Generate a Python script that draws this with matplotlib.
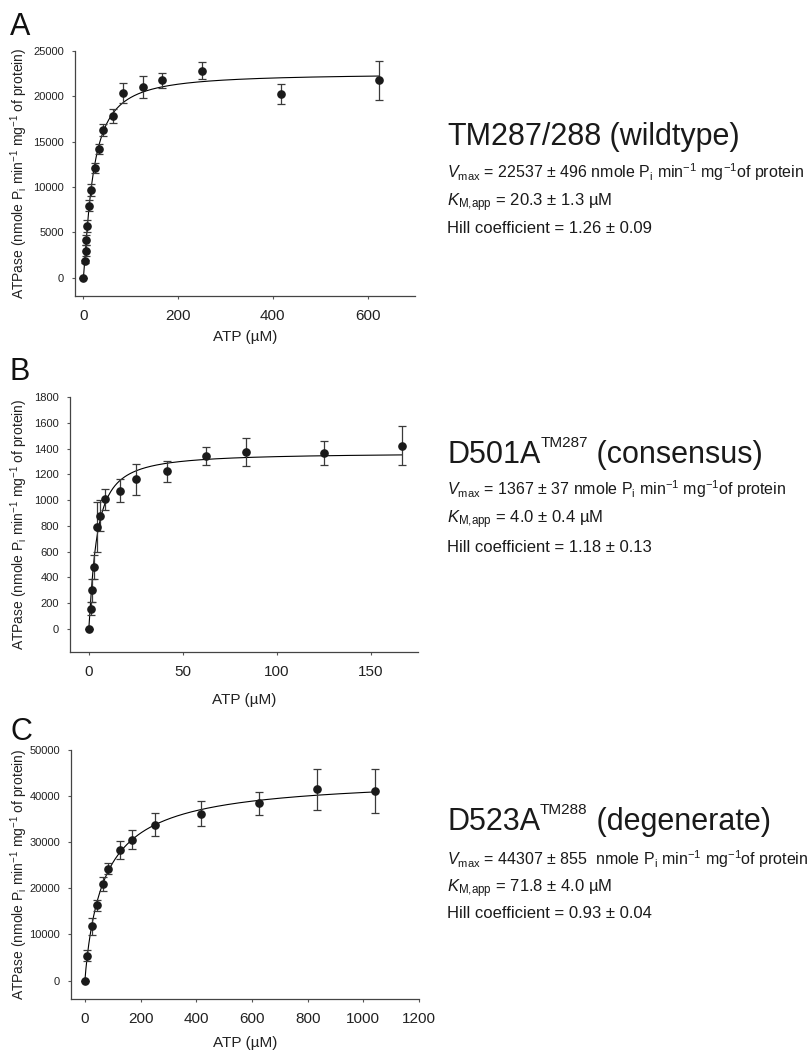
import matplotlib
matplotlib.use("Agg")
import matplotlib.pyplot as plt
import numpy as np

plt.rcParams["font.family"] = ["Liberation Sans", "DejaVu Sans"]
plt.rcParams["mathtext.fontset"] = "custom"
plt.rcParams["mathtext.rm"] = "Liberation Sans"
plt.rcParams["mathtext.it"] = "Liberation Sans:italic"

# Panel A: TM287/288 (wildtype)
atp_a = [0, 3, 5, 6.5, 8.5, 12.5, 17, 25, 33.5, 42, 62.5, 83, 125, 167, 250, 417, 625]
rate_a = [0, 1840, 2990, 4170, 5680, 7970, 9660, 12100, 14160, 16300, 17800, 20350, 21050, 21750, 22850, 20250, 21750]
err_a = [0, 150, 600, 550, 650, 600, 650, 550, 550, 700, 780, 1070, 1200, 830, 980, 1120, 2190]

# Panel B: D501A TM287 (consensus)
atp_b = [0, 0.9, 1.7, 2.5, 4.2, 6, 8.4, 16.8, 25, 41.8, 62.5, 83.3, 125, 166.5]
rate_b = [0, 157, 300, 480, 789, 879, 1005, 1072, 1162, 1224, 1345, 1371, 1366, 1423]
err_b = [0, 52, 90, 90, 195, 120, 81, 90, 120, 82, 70, 110, 95, 153]

# Panel C: D523A TM288 (degenerate)
atp_c = [0, 8.4, 26, 42, 65, 84, 126, 168, 250, 417, 625, 833, 1041]
rate_c = [0, 5410, 11760, 16300, 21000, 24240, 28350, 30590, 33840, 36220, 38460, 41490, 41200]
err_c = [0, 1120, 1900, 1150, 1550, 1150, 1950, 2050, 2500, 2700, 2450, 4470, 4760]

# Hill fit parameters printed beside each panel
vmax = [22537, 1367, 44307]
km = [20.3, 4.0, 71.8]
hill = [1.26, 1.18, 0.93]

# title pieces: name, superscript, remainder
title_main = ["TM287/288", "D501A", "D523A"]
title_sup = ["", "TM287", "TM288"]
title_rest = [" (wildtype)", " (consensus)", " (degenerate)"]
vmax_txt = [r"$V_{\mathrm{max}}$ = 22537 ± 496 nmole P$_{\mathrm{i}}$ min$^{\mathrm{-1}}$ mg$^{\mathrm{-1}}$of protein",
            r"$V_{\mathrm{max}}$ = 1367 ± 37 nmole P$_{\mathrm{i}}$ min$^{\mathrm{-1}}$ mg$^{\mathrm{-1}}$of protein",
            r"$V_{\mathrm{max}}$ = 44307 ± 855  nmole P$_{\mathrm{i}}$ min$^{\mathrm{-1}}$ mg$^{\mathrm{-1}}$of protein"]
km_txt = [r"$K_{\mathrm{M{,}app}}$ = 20.3 ± 1.3 µM",
          r"$K_{\mathrm{M{,}app}}$ = 4.0 ± 0.4 µM",
          r"$K_{\mathrm{M{,}app}}$ = 71.8 ± 4.0 µM"]
hill_txt = ["Hill coefficient = 1.26 ± 0.09",
            "Hill coefficient = 1.18 ± 0.13",
            "Hill coefficient = 0.93 ± 0.04"]

W, H = 809, 1056
fig = plt.figure(figsize=(W / 100, H / 100), dpi=100)
renderer = fig.canvas.get_renderer()

def px_axes(left, right, top, bottom):
    return fig.add_axes([left / W, 1 - bottom / H, (right - left) / W, (bottom - top) / H])

panels = [
    dict(ax=px_axes(75, 415, 51, 296), x=atp_a, y=rate_a, e=err_a,
         xlim=(-17.5, 700), ylim=(-2000, 25000), xt=[0, 200, 400, 600],
         yt=np.arange(0, 25001, 5000), ylab_x=19, xlab_y=337,
         letter="A", letter_y=35, text_y=[145, 178, 206, 233]),
    dict(ax=px_axes(70, 418, 397, 652), x=atp_b, y=rate_b, e=err_b,
         xlim=(-10, 175), ylim=(-180, 1800), xt=[0, 50, 100, 150],
         yt=np.arange(0, 1801, 200), ylab_x=19, xlab_y=700,
         letter="B", letter_y=380, text_y=[463, 495, 523, 552]),
    dict(ax=px_axes(71, 419, 750, 999), x=atp_c, y=rate_c, e=err_c,
         xlim=(-50, 1200), ylim=(-4000, 50000), xt=np.arange(0, 1201, 200),
         yt=np.arange(0, 50001, 10000), ylab_x=19, xlab_y=1043,
         letter="C", letter_y=740, text_y=[830, 865, 892, 918]),
]

for i, p in enumerate(panels):
    ax = p["ax"]
    # fitted Hill curve
    xs = np.linspace(0, max(p["x"]), 600)
    fit = vmax[i] * xs ** hill[i] / (km[i] ** hill[i] + xs ** hill[i])
    ax.plot(xs, fit, color="black", lw=0.8, zorder=2)
    ax.errorbar(p["x"], p["y"], yerr=p["e"], fmt="o", color="#1a1a1a", ms=5.2,
                ecolor="#3a3a3a", elinewidth=0.9, capsize=3, capthick=0.9, zorder=3)

    ax.set_xlim(*p["xlim"])
    ax.set_ylim(*p["ylim"])
    ax.set_xticks(p["xt"])
    ax.set_yticks(p["yt"])
    for s in ["top", "right"]:
        ax.spines[s].set_visible(False)
    for s in ["left", "bottom"]:
        ax.spines[s].set_color("#444444")
        ax.spines[s].set_linewidth(0.9)
    ax.tick_params(axis="both", direction="out", length=2.5, width=0.8, color="#555555")
    ax.tick_params(axis="x", labelsize=11, pad=7, labelcolor="#222222")
    ax.tick_params(axis="y", labelsize=8, pad=5.5, labelcolor="#222222")

    l, b, w, h = ax.get_position().bounds
    ax.set_ylabel(r"ATPase (nmole P$_{\mathrm{i}}$ min$^{\mathrm{-1}}$ mg$^{\mathrm{-1}}$ of protein)",
                  fontsize=10, color="#222222", va="center")
    ax.yaxis.set_label_coords((p["ylab_x"] / W - l) / w, 0.5)
    ax.set_xlabel("ATP (µM)", fontsize=11, color="#222222", va="center")
    ax.xaxis.set_label_coords(0.5, (1 - p["xlab_y"] / H - b) / h)

    fig.text(10 / W, 1 - p["letter_y"] / H, p["letter"], fontsize=22,
             color="#111111", va="baseline")

    ty = p["text_y"]
    # title built from pieces so the superscript can stay small
    t = fig.text(447 / W, 1 - ty[0] / H, title_main[i], fontsize=22, color="#1a1a1a", va="baseline")
    x1 = t.get_window_extent(renderer=renderer).x1
    if title_sup[i]:
        s = fig.text(x1 / W, 1 - (ty[0] - 16) / H, title_sup[i], fontsize=11, color="#1a1a1a", va="baseline")
        x1 = s.get_window_extent(renderer=renderer).x1
    fig.text(x1 / W, 1 - ty[0] / H, title_rest[i], fontsize=22, color="#1a1a1a", va="baseline")

    fig.text(447 / W, 1 - ty[1] / H, vmax_txt[i], fontsize=11.5, color="#1a1a1a", va="baseline")
    fig.text(447 / W, 1 - ty[2] / H, km_txt[i], fontsize=12, color="#1a1a1a", va="baseline")
    fig.text(447 / W, 1 - ty[3] / H, hill_txt[i], fontsize=12, color="#1a1a1a", va="baseline")

fig.savefig("out.png", dpi=100)
